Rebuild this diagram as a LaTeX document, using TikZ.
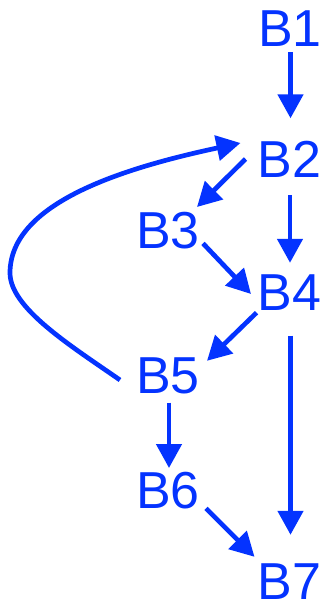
\documentclass[tikz,border=0pt]{standalone}
\usepackage{fontspec}
\setmainfont{Liberation Sans}
\usetikzlibrary{arrows.meta,calc}
\begin{document}
\begin{tikzpicture}[x=1pt,y=-1pt]
    \definecolor{flowblue}{RGB}{4, 51, 255}
    \tikzset{
        blk/.style={text=flowblue, inner sep=0pt, text height=37pt, text depth=0pt,
            font=\fontsize{52}{52}\selectfont},
        flow/.style={draw=flowblue, line width=4.7pt, -{Triangle[length=24pt,width=25pt]}}
    }
    \useasboundingbox (0,0) rectangle (323,604);

    \node[blk] (b1) at (290, 28.5){B1};
    \node[blk] (b2) at (289.5, 159){B2};
    \node[blk] (b3) at (168, 229.7){B3};
    \node[blk] (b4) at (289.5, 292){B4};
    \node[blk] (b5) at (168, 375){B5};
    \node[blk] (b6) at (168, 489.7){B6};
    \node[blk] (b7) at (289.5, 581){B7};

    \draw[flow] ($(b1.south)+(0.5,5)$) -- ($(b2.north)+(1,-22)$);
    \draw[flow] ($(b2.west)+(-12,0)$) -- ($(b3.north east)+(-3,-4)$);
    \draw[flow] ($(b2.south)+(0.5,17.5)$) -- ($(b4.north)+(0.5,-10.5)$);
    \draw[flow] ($(b3.south east)+(3,-5)$) -- ($(b4.west)+(-6.5,2)$);
    \draw[flow] ($(b4.south west)+(-1,2)$) -- ($(b5.north east)+(7,4.5)$);
    \draw[flow] ($(b4.south)+(1,25)$) -- ($(b7.north)+(1,-27.5)$);
    \draw[flow] ($(b5.south)+(1,9)$) -- ($(b6.north)+(1,-3)$);
    \draw[flow] ($(b6.south east)+(6,0)$) -- ($(b7.north west)+(-3,-5.5)$);

    % back edge from B5 round the left side up to B2
    \draw[flow] ($(b5.west)+(-16,5)$) .. controls (70.8,345.8) and (10,308) .. (10,273)
        .. controls (10,203) and (122.8,168.2) .. ($(b2.west)+(-17,-16)$);
\end{tikzpicture}
\end{document}
